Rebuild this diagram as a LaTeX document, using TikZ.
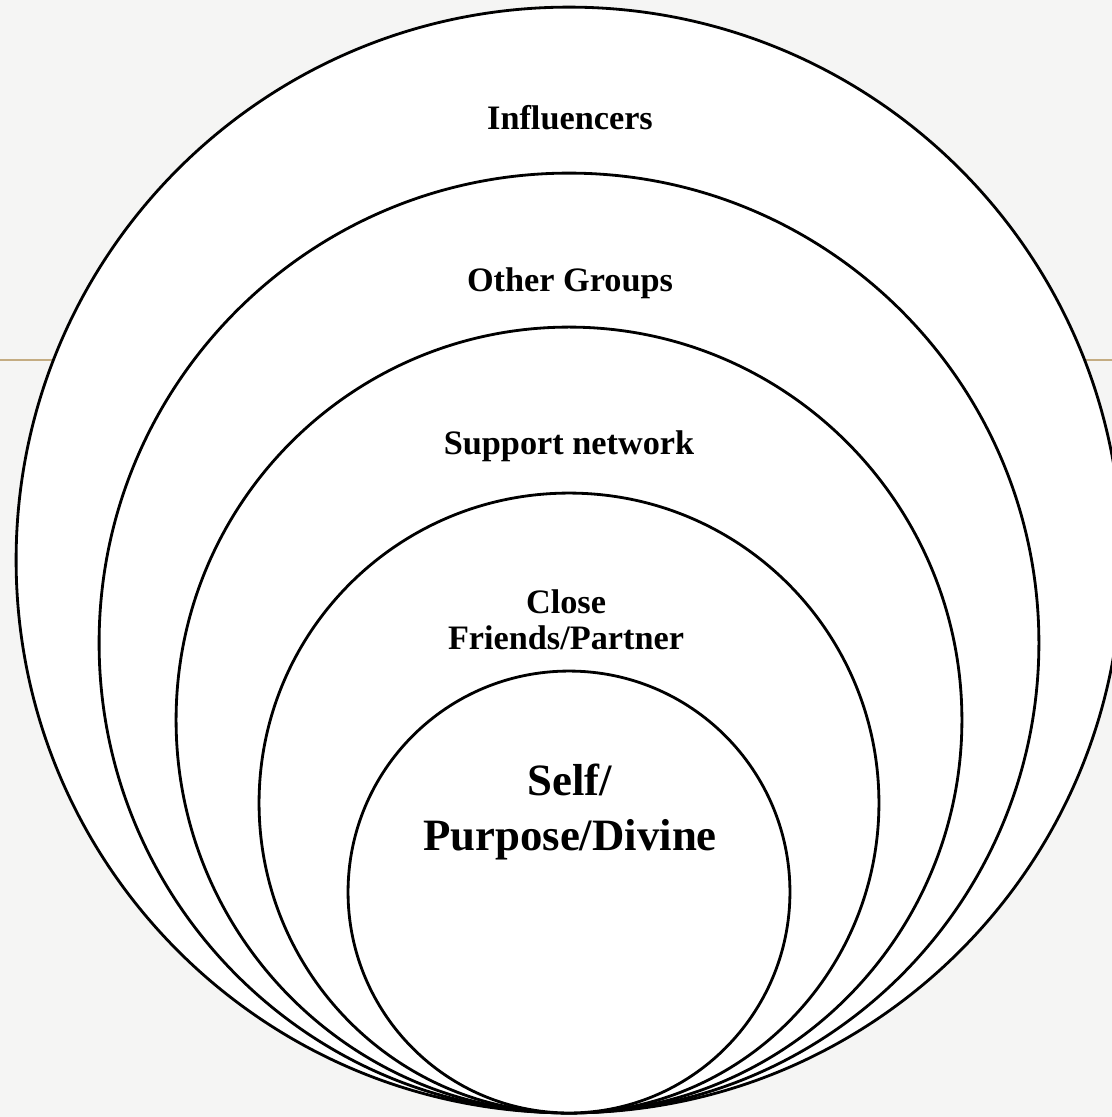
\documentclass[tikz,border=0pt]{standalone}
\usepackage{fontspec}
\setmainfont{Liberation Serif}
\definecolor{bgcol}{HTML}{F5F5F4}
\definecolor{tanline}{HTML}{C4AC82}
\tikzset{
  ring/.style={draw=black, fill=white, line width=1.6pt},
  lbl/.style={font=\fontsize{19.5}{20.5}\selectfont\bfseries, align=center, inner sep=0pt},
  biglbl/.style={font=\fontsize{25.5}{31}\selectfont\bfseries, align=center, inner sep=0pt}
}
\begin{document}
\begin{tikzpicture}[x=0.02cm, y=-0.02cm]
\useasboundingbox (0,0) rectangle (1112,1117);
\clip (0,0) rectangle (1112,1117);
\fill[bgcol] (0,0) rectangle (1112,1117);
\coordinate (lineL) at (0,360);
\coordinate (lineR) at (1112,360);
\draw[tanline, line width=1.2pt] (lineL) -- (lineR);
\draw[ring] (569,560) circle[radius=11.06cm];
\draw[ring] (569,643) circle[radius=9.4cm];
\draw[ring] (569,720) circle[radius=7.86cm];
\draw[ring] (569,803) circle[radius=6.2cm];
\draw[ring] (569,892) circle[radius=4.42cm];
\node[lbl] (influencers) at (570,118) {Influencers};
\node[lbl] (othergroups) at (570,283) {Other Groups};
\node[lbl] (support) at (569,446) {Support network};
\node[lbl] (close) at (566,620) {Close\\Friends/Partner};
\node[biglbl] (self) at (570,812) {Self/\\Purpose/Divine};
\end{tikzpicture}
\end{document}
